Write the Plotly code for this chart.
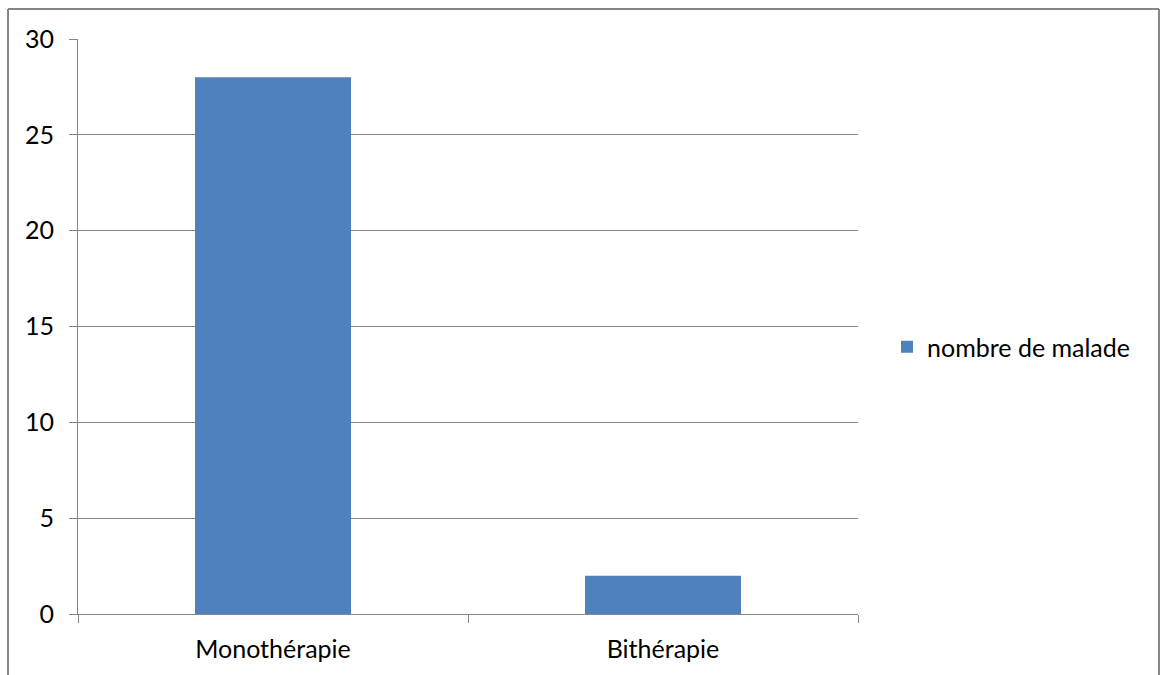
import plotly.graph_objects as go

categories = ["Monothérapie", "Bithérapie"]
patients = [28, 2]
series_name = "nombre de malade"
y_ticks = [0, 5, 10, 15, 20, 25, 30]

W, H = 1161, 675
L, R, T, B = 78, 858, 39, 614  # plot area in pixels

def px_x(p):
    return (p - L) / (R - L)

def px_y(p):
    return (B - p) / (B - T)

fig = go.Figure()
fig.add_trace(go.Bar(
    x=categories, y=patients, name=series_name,
    marker=dict(color="#4F81BD", line=dict(width=0)),
    width=0.4,
))

grey = "#868686"
fig.update_layout(
    width=W, height=H,
    margin=dict(l=L, r=W - R, t=T, b=H - B, pad=0),
    paper_bgcolor="white", plot_bgcolor="white",
    font=dict(family="Lato, Carlito, Calibri, sans-serif", size=25, color="#000000"),
    showlegend=True,
    legend=dict(x=px_x(887), y=px_y(347), xanchor="left", yanchor="middle",
                font=dict(size=25), itemwidth=30, bgcolor="rgba(0,0,0,0)",
                tracegroupgap=0),
    bargap=0.6,
    xaxis=dict(
        type="category", showline=True, linecolor=grey, linewidth=1,
        ticks="outside", ticklen=8, tickcolor=grey, tickson="boundaries",
        showgrid=False, ticklabelstandoff=13, tickfont=dict(size=25),
    ),
    yaxis=dict(
        range=[0, 30], tickvals=y_ticks, showline=True, linecolor=grey, linewidth=1,
        ticks="outside", ticklen=8, tickcolor=grey,
        showgrid=True, gridcolor=grey, gridwidth=1, zeroline=False,
        ticklabelstandoff=10, tickfont=dict(size=25),
    ),
    shapes=[
        dict(type="line", xref="paper", yref="paper", x0=px_x(8), x1=px_x(8),
             y0=px_y(9), y1=px_y(700), line=dict(color=grey, width=2)),
        dict(type="line", xref="paper", yref="paper", x0=px_x(8), x1=px_x(1159),
             y0=px_y(9), y1=px_y(9), line=dict(color=grey, width=2)),
        dict(type="line", xref="paper", yref="paper", x0=px_x(1159), x1=px_x(1159),
             y0=px_y(9), y1=px_y(700), line=dict(color=grey, width=2)),
    ],
)

fig.write_html("out.html")
